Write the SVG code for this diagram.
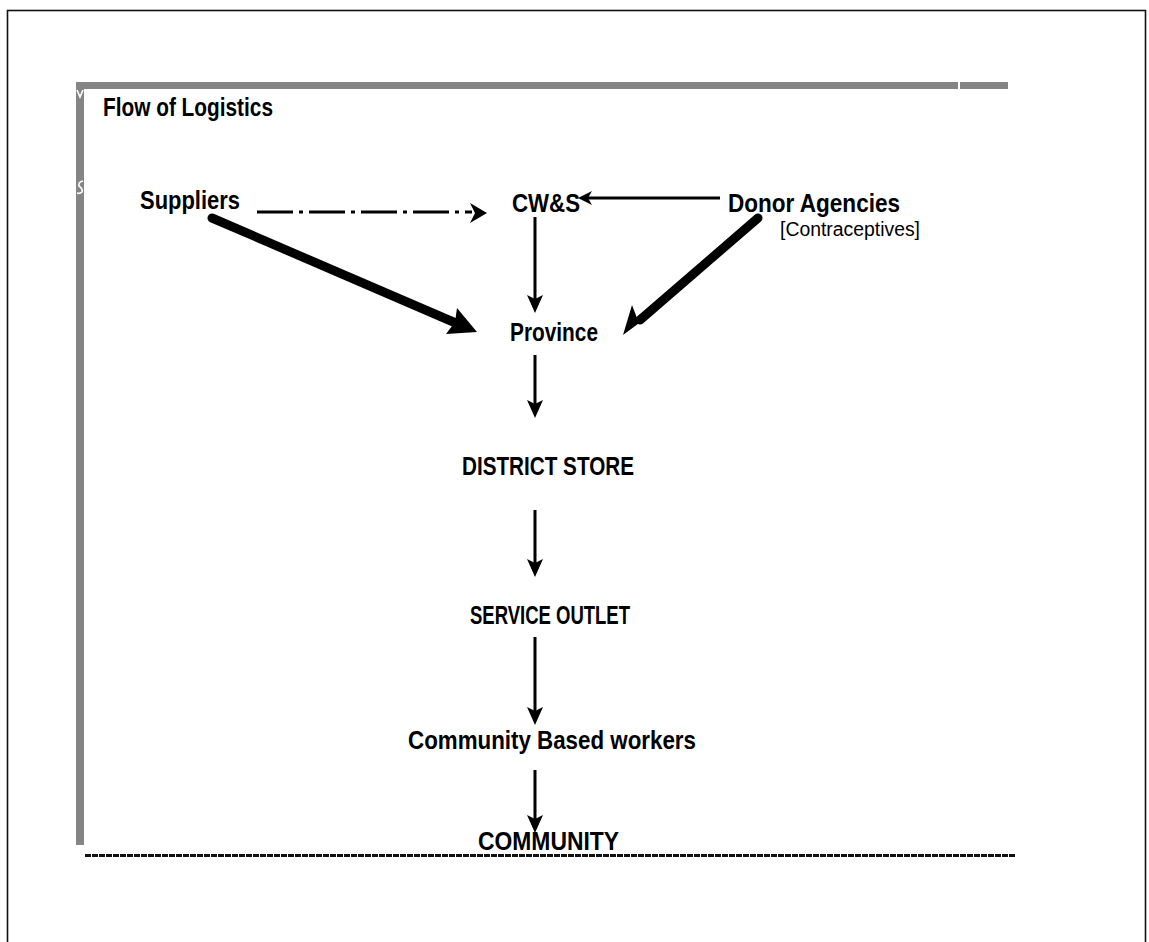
<svg xmlns="http://www.w3.org/2000/svg" width="1149" height="942" viewBox="0 0 1149 942">
<style>
.b{font-family:"Liberation Sans",Arial,sans-serif;font-weight:bold;font-size:26px;fill:#000}
.r{font-family:"Liberation Sans",Arial,sans-serif;font-weight:normal;font-size:20px;fill:#000}
.ln{stroke:#000;fill:none;stroke-width:3}
.thick{stroke:#000;fill:none;stroke-width:9;stroke-linecap:round}
.hd{fill:#000;stroke:none}
.gb{fill:#858585}
.mk{stroke:#fff;stroke-width:1.6;fill:none}
</style>
<rect x="0" y="0" width="1149" height="942" fill="#fff"/>
<g id="frame">
<rect x="7.5" y="10.5" width="1138" height="1000" fill="none" stroke="#111" stroke-width="1.6"/>
<rect class="gb" x="76" y="82" width="932" height="7"/>
<rect x="958" y="82" width="2" height="7" fill="#fff"/>
<rect class="gb" x="76" y="82" width="8" height="763"/>
<polyline class="mk" points="77,90 80,97 83,90"/>
<path class="mk" d="M83,181 Q78,182 79,186 Q83,189 82,192 Q80,194 77,193"/>
<line x1="85" y1="855.5" x2="1015" y2="855.5" stroke="#111" stroke-width="3" stroke-dasharray="6 1"/>
</g>
<g id="title"><text class="b" x="103" y="116" textLength="170" lengthAdjust="spacingAndGlyphs">Flow of Logistics</text></g>
<g id="suppliers"><text class="b" x="140" y="209" textLength="100" lengthAdjust="spacingAndGlyphs">Suppliers</text></g>
<g id="cws"><text class="b" x="512" y="212" textLength="68" lengthAdjust="spacingAndGlyphs">CW&amp;S</text></g>
<g id="donor"><text class="b" x="728" y="212" textLength="172" lengthAdjust="spacingAndGlyphs">Donor Agencies</text>
<text class="r" x="780" y="236" textLength="140" lengthAdjust="spacingAndGlyphs">[Contraceptives]</text></g>
<g id="province"><text class="b" x="510" y="341" textLength="88" lengthAdjust="spacingAndGlyphs">Province</text></g>
<g id="district"><text class="b" x="462" y="475" textLength="172" lengthAdjust="spacingAndGlyphs">DISTRICT STORE</text></g>
<g id="outlet"><text class="b" x="470" y="624" textLength="160" lengthAdjust="spacingAndGlyphs">SERVICE OUTLET</text></g>
<g id="cbw"><text class="b" x="408" y="749" textLength="288" lengthAdjust="spacingAndGlyphs">Community Based workers</text></g>
<g id="community"><text class="b" x="478" y="850" textLength="141" lengthAdjust="spacingAndGlyphs">COMMUNITY</text></g>
<g id="connectors">
<line class="ln" x1="257" y1="212" x2="472" y2="212" stroke-width="3.5" stroke-dasharray="36 6 4 6"/>
<polygon class="hd" points="470,203 487,213 470,223 475,213"/>
<line class="ln" x1="720" y1="198" x2="588" y2="198"/>
<polygon class="hd" points="592,191 578,198 592,205 588,198"/>
<line class="ln" x1="535" y1="217" x2="535" y2="300"/>
<polygon class="hd" points="527,295 535,313 543,295 535,299"/>
<line class="thick" x1="212" y1="218" x2="458" y2="324"/>
<polygon class="hd" points="477,332 446,334 455,322 457,308"/>
<line class="thick" x1="758" y1="218" x2="640" y2="320"/>
<polygon class="hd" points="623,335 632,305 637,318 650,315"/>
<line class="ln" x1="535" y1="355" x2="535" y2="405"/>
<polygon class="hd" points="527,400 535,418 543,400 535,404"/>
<line class="ln" x1="535" y1="510" x2="535" y2="565"/>
<polygon class="hd" points="527,559 535,577 543,559 535,563"/>
<line class="ln" x1="535" y1="637" x2="535" y2="713"/>
<polygon class="hd" points="527,707 535,725 543,707 535,711"/>
<line class="ln" x1="535" y1="770" x2="535" y2="820"/>
<polygon class="hd" points="527,815 535,833 543,815 535,819"/>
</g>
</svg>
